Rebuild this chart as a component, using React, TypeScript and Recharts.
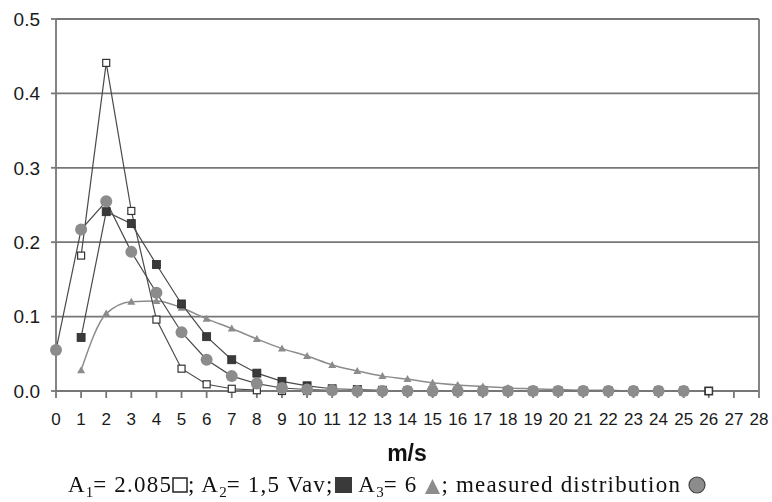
import React from "react";
import {
  LineChart,
  Line,
  XAxis,
  YAxis,
  CartesianGrid,
  ReferenceLine,
} from "recharts";

// wind speed bins, m/s
const speeds = [
  0, 1, 2, 3, 4, 5, 6, 7, 8, 9, 10, 11, 12, 13, 14, 15, 16, 17, 18, 19, 20,
  21, 22, 23, 24, 25, 26,
];

// A1 = 2.085 (open squares), starts at 1 m/s
const a1Values = [
  null, 0.182, 0.441, 0.242, 0.096, 0.03, 0.009, 0.003, 0.001, 0, 0, 0, 0, 0,
  0, 0, 0, 0, 0, 0, 0, 0, 0, 0, 0, 0, 0,
];

// A2 = 1,5 Vav (filled squares)
const a2Values = [
  null, 0.072, 0.241, 0.225, 0.17, 0.117, 0.073, 0.042, 0.024, 0.013, 0.007,
  0.003, 0.002, 0.001, 0, 0, 0, 0, 0, 0, 0, 0, 0, 0, 0, 0, 0,
];

// A3 = 6 (triangles)
const a3Values = [
  null, 0.028, 0.104, 0.12, 0.121, 0.112, 0.097, 0.084, 0.07, 0.057, 0.047,
  0.035, 0.027, 0.02, 0.016, 0.011, 0.008, 0.006, 0.004, 0.003, 0.002, 0.001,
  0.001, 0, 0, 0, 0,
];

// measured distribution (circles)
const measuredValues = [
  0.055, 0.217, 0.255, 0.187, 0.132, 0.079, 0.042, 0.02, 0.01, 0.004, 0.002,
  0.001, 0, 0, 0, 0, 0, 0, 0, 0, 0, 0, 0, 0, 0, 0, null,
];

const xTicks = Array.from({ length: 29 }, (_, i) => i);
const yTicks = [0, 0.1, 0.2, 0.3, 0.4, 0.5];

const data = speeds.map((s, i) => ({
  speed: s,
  a1: a1Values[i],
  a2: a2Values[i],
  a3: a3Values[i],
  measured: measuredValues[i],
}));

const LINE = "#4a4a4a";
const GREY = "#8c8c8c";
const AXIS = "#777";

function OpenSquare(props: any) {
  const { cx, cy, index } = props;
  if (cx == null || cy == null) return <g key={"os" + index} />;
  return (
    <rect key={"os" + index} x={cx - 3.5} y={cy - 3.5} width={7} height={7}
      fill="#fff" stroke="#333" strokeWidth={1.2} />
  );
}

function DarkSquare(props: any) {
  const { cx, cy, index } = props;
  if (cx == null || cy == null) return <g key={"ds" + index} />;
  return (
    <rect key={"ds" + index} x={cx - 4} y={cy - 4} width={8} height={8}
      fill="#3a3a3a" stroke="#2a2a2a" strokeWidth={0.8} />
  );
}

function Tri(props: any) {
  const { cx, cy, index } = props;
  if (cx == null || cy == null) return <g key={"tr" + index} />;
  return (
    <polygon key={"tr" + index}
      points={`${cx},${cy - 4} ${cx + 4},${cy + 3} ${cx - 4},${cy + 3}`}
      fill={GREY} />
  );
}

function Dot(props: any) {
  const { cx, cy, index } = props;
  if (cx == null || cy == null) return <g key={"ci" + index} />;
  return <circle key={"ci" + index} cx={cx} cy={cy} r={6} fill={GREY} />;
}

const sub: React.CSSProperties = {
  fontSize: 15,
  verticalAlign: -5,
  lineHeight: 0,
  letterSpacing: 0,
};

export default function App() {
  return (
    <div
      style={{
        position: "fixed",
        left: 0,
        top: 0,
        width: 772,
        height: 502,
        background: "#fff",
      }}
    >
      <LineChart
        width={772}
        height={502}
        data={data}
        margin={{ top: 19, right: 13, left: 0, bottom: 81 }}
      >
        <CartesianGrid vertical={false} stroke={AXIS} strokeWidth={1.8} />
        <XAxis
          dataKey="speed"
          type="number"
          domain={[0, 28]}
          ticks={xTicks}
          interval={0}
          height={30}
          tickSize={7}
          tickMargin={15}
          stroke={AXIS}
          strokeWidth={1.8}
          tick={{
            fill: "#1a1a1a",
            fontSize: 17,
            fontFamily: "Liberation Sans, Arial, sans-serif",
          }}
        />
        <YAxis
          type="number"
          domain={[0, 0.5]}
          ticks={yTicks}
          width={56}
          tickSize={5}
          tickMargin={11}
          stroke={AXIS}
          strokeWidth={1.8}
          tickFormatter={(v: number) => v.toFixed(1)}
          tick={{
            fill: "#1a1a1a",
            fontSize: 19,
            fontFamily: "Liberation Sans, Arial, sans-serif",
          }}
        />
        <ReferenceLine x={28} stroke={AXIS} strokeWidth={1.8} />

        <Line
          dataKey="a3"
          type="monotone"
          stroke={GREY}
          strokeWidth={1.5}
          dot={Tri}
          activeDot={false}
          isAnimationActive={false}
        />
        <Line
          dataKey="a2"
          type="linear"
          stroke={LINE}
          strokeWidth={1.2}
          dot={DarkSquare}
          activeDot={false}
          isAnimationActive={false}
        />
        <Line
          dataKey="a1"
          type="linear"
          stroke={LINE}
          strokeWidth={1.2}
          dot={OpenSquare}
          activeDot={false}
          isAnimationActive={false}
        />
        <Line
          dataKey="measured"
          type="linear"
          stroke={LINE}
          strokeWidth={1.2}
          dot={Dot}
          activeDot={false}
          isAnimationActive={false}
        />
      </LineChart>

      <div
        style={{
          position: "absolute",
          left: 0,
          width: 772,
          top: 443,
          marginLeft: 21,
          textAlign: "center",
          fontFamily: "Liberation Sans, Arial, sans-serif",
          fontWeight: "bold",
          fontSize: 23,
          lineHeight: "20px",
          color: "#111",
        }}
      >
        m/s
      </div>

      <div
        style={{
          position: "absolute",
          left: 0,
          width: 772,
          top: 474,
          marginLeft: 1,
          textAlign: "center",
          fontFamily: "Liberation Serif, 'Times New Roman', serif",
          fontSize: 23,
          letterSpacing: 1.2,
          lineHeight: "22px",
          color: "#111",
          whiteSpace: "nowrap",
        }}
      >
        A<span style={sub}>1</span>= 2.085
        <svg width={16} height={16} style={{ verticalAlign: -1 }}>
          <rect x={1} y={1} width={14} height={14} fill="#fff" stroke="#222" strokeWidth={1.5} />
        </svg>
        ; A<span style={sub}>2</span>= 1,5 Vav;
        <svg width={19} height={16} style={{ verticalAlign: -1 }}>
          <rect x={1} y={0} width={17} height={16} fill="#3a3a3a" />
        </svg>
        {"  "}A<span style={sub}>3</span>= 6{" "}
        <svg width={17} height={16} style={{ verticalAlign: -2 }}>
          <polygon points="8.5,1 16,16 1,16" fill={GREY} />
        </svg>
        ; measured distribution{" "}
        <svg width={18} height={18} style={{ verticalAlign: -2 }}>
          <circle cx={9} cy={9} r={8} fill={GREY} stroke="#444" strokeWidth={1.2} />
        </svg>
      </div>
    </div>
  );
}
